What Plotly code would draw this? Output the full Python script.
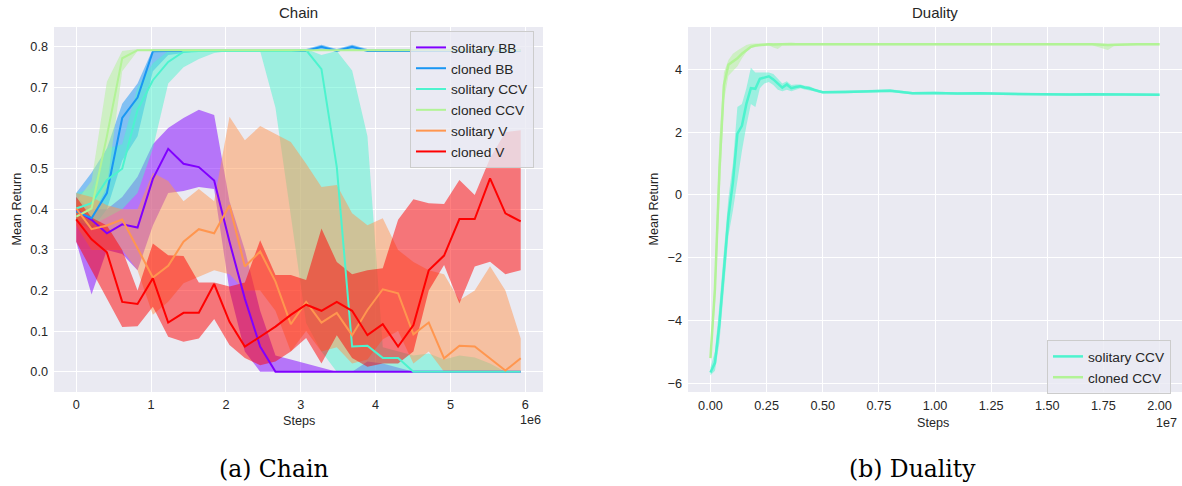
import plotly.graph_objects as go

# ---------------- data: Chain ----------------
chain_steps = [0, 204800, 409600, 614400, 819200, 1024000, 1228800, 1433600, 1638400, 1843200,
               2048000, 2252800, 2457600, 2662400, 2867200, 3072000, 3276800, 3481600, 3686400, 3891200,
               4096000, 4300800, 4505600, 4710400, 4915200, 5120000, 5324800, 5529600, 5734400, 5939200]

sol_bb_mean = [0.398, 0.374, 0.341, 0.363, 0.355, 0.475, 0.549, 0.512, 0.504, 0.471,
               0.32, 0.18, 0.062, 0.0, 0.0, 0.0, 0.0, 0.0, 0.0, 0.0,
               0.0, 0.0, 0.0, 0.0, 0.0, 0.0, 0.0, 0.0, 0.0, 0.0]
sol_bb_low = [0.32, 0.19, 0.30, 0.29, 0.25, 0.36, 0.44, 0.445, 0.455, 0.45,
              0.2, 0.05, 0.0, 0.0, 0.0, 0.0, 0.0, 0.0, 0.0, 0.0,
              0.0, 0.0, 0.0, 0.0, 0.0, 0.0, 0.0, 0.0, 0.0, 0.0]
sol_bb_high = [0.43, 0.40, 0.40, 0.43, 0.48, 0.56, 0.60, 0.625, 0.645, 0.632,
               0.42, 0.30, 0.15, 0.04, 0.03, 0.02, 0.01, 0.0, 0.0, 0.025,
               0.02, 0.01, 0.0, 0.0, 0.0, 0.0, 0.0, 0.0, 0.0, 0.0]

clo_bb_mean = [0.395, 0.378, 0.44, 0.625, 0.675, 0.789, 0.79, 0.79, 0.79, 0.79,
               0.79, 0.79, 0.79, 0.79, 0.79, 0.79, 0.80, 0.79, 0.80, 0.79,
               0.79, 0.79, 0.79, 0.79, 0.79, 0.79, 0.79, 0.79, 0.79, 0.79]
clo_bb_low = [0.37, 0.35, 0.40, 0.52, 0.58, 0.74, 0.78, 0.785, 0.79, 0.79,
              0.79, 0.79, 0.79, 0.79, 0.79, 0.79, 0.79, 0.79, 0.79, 0.79,
              0.79, 0.79, 0.79, 0.79, 0.79, 0.79, 0.79, 0.79, 0.79, 0.79]
clo_bb_high = [0.44, 0.49, 0.55, 0.66, 0.71, 0.795, 0.795, 0.795, 0.795, 0.795,
               0.795, 0.795, 0.795, 0.795, 0.795, 0.795, 0.805, 0.795, 0.805, 0.795,
               0.795, 0.795, 0.795, 0.795, 0.795, 0.795, 0.795, 0.795, 0.795, 0.795]

sol_ccv_mean = [0.402, 0.415, 0.472, 0.50, 0.645, 0.718, 0.763, 0.788, 0.79, 0.79,
                0.79, 0.79, 0.79, 0.79, 0.79, 0.792, 0.745, 0.504, 0.062, 0.064,
                0.034, 0.034, 0.0, 0.0, 0.0, 0.0, 0.0, 0.0, 0.0, 0.0]
sol_ccv_low = [0.37, 0.36, 0.38, 0.40, 0.44, 0.55, 0.71, 0.75, 0.77, 0.785,
               0.79, 0.79, 0.79, 0.65, 0.38, 0.12, 0.05, 0.0, 0.0, 0.0,
               0.0, 0.0, 0.0, 0.0, 0.0, 0.0, 0.0, 0.0, 0.0, 0.0]
sol_ccv_high = [0.44, 0.45, 0.55, 0.56, 0.70, 0.76, 0.79, 0.795, 0.795, 0.795,
                0.795, 0.795, 0.795, 0.795, 0.795, 0.795, 0.78, 0.79, 0.742, 0.58,
                0.06, 0.05, 0.04, 0.045, 0.03, 0.04, 0.035, 0.02, 0.0, 0.0]

clo_ccv_mean = [0.382, 0.402, 0.58, 0.772, 0.792, 0.792, 0.792, 0.792, 0.792, 0.792,
                0.792, 0.792, 0.792, 0.792, 0.792, 0.792, 0.792, 0.792, 0.792, 0.792,
                0.792, 0.792, 0.792, 0.792, 0.792, 0.792, 0.792, 0.792, 0.792, 0.792]
clo_ccv_low = [0.37, 0.38, 0.455, 0.74, 0.79, 0.79, 0.79, 0.79, 0.79, 0.79,
               0.79, 0.79, 0.79, 0.79, 0.79, 0.79, 0.79, 0.79, 0.79, 0.79,
               0.79, 0.79, 0.79, 0.79, 0.79, 0.79, 0.79, 0.79, 0.79, 0.79]
clo_ccv_high = [0.42, 0.47, 0.714, 0.79, 0.795, 0.795, 0.795, 0.795, 0.795, 0.795,
                0.795, 0.795, 0.795, 0.795, 0.795, 0.795, 0.795, 0.795, 0.795, 0.795,
                0.795, 0.795, 0.795, 0.795, 0.795, 0.795, 0.795, 0.795, 0.795, 0.795]

sol_v_mean = [0.402, 0.351, 0.36, 0.375, 0.304, 0.232, 0.261, 0.32, 0.351, 0.341,
              0.41, 0.259, 0.296, 0.222, 0.117, 0.172, 0.121, 0.145, 0.09, 0.152,
              0.203, 0.193, 0.092, 0.121, 0.033, 0.064, 0.062, 0.033, 0.003, 0.033]
sol_v_low = [0.36, 0.30, 0.30, 0.30, 0.25, 0.14, 0.172, 0.218, 0.234, 0.25,
             0.24, 0.20, 0.20, 0.15, 0.05, 0.10, 0.05, 0.06, 0.02, 0.03,
             0.08, 0.10, 0.02, 0.05, 0.0, 0.0, 0.0, 0.0, 0.0, 0.0]
sol_v_high = [0.44, 0.43, 0.41, 0.40, 0.40, 0.49, 0.47, 0.42, 0.45, 0.42,
              0.628, 0.57, 0.605, 0.586, 0.566, 0.512, 0.455, 0.46, 0.39, 0.361,
              0.378, 0.30, 0.27, 0.25, 0.24, 0.176, 0.20, 0.26, 0.20, 0.082]

clo_v_mean = [0.375, 0.326, 0.294, 0.172, 0.167, 0.230, 0.121, 0.145, 0.145, 0.216,
              0.123, 0.062, 0.086, 0.111, 0.140, 0.165, 0.150, 0.172, 0.150, 0.090,
              0.117, 0.062, 0.115, 0.250, 0.286, 0.376, 0.376, 0.476, 0.39, 0.37]
clo_v_low = [0.32, 0.25, 0.18, 0.11, 0.112, 0.16, 0.086, 0.074, 0.082, 0.13,
             0.066, 0.034, 0.016, 0.025, 0.05, 0.083, 0.02, 0.09, 0.034, 0.012,
             0.02, 0.02, 0.05, 0.20, 0.263, 0.168, 0.259, 0.271, 0.24, 0.25]
clo_v_high = [0.43, 0.38, 0.36, 0.30, 0.20, 0.316, 0.287, 0.285, 0.22, 0.22,
              0.21, 0.22, 0.324, 0.238, 0.238, 0.226, 0.353, 0.27, 0.24, 0.25,
              0.255, 0.374, 0.425, 0.415, 0.413, 0.472, 0.435, 0.526, 0.59, 0.595]

chain_labels = ["solitary BB", "cloned BB", "solitary CCV", "cloned CCV", "solitary V", "cloned V"]
chain_colors = [(128, 0, 255), (25, 150, 243), (77, 243, 206), (178, 243, 150), (255, 150, 79), (255, 0, 0)]

# ---------------- data: Duality ----------------
dual_steps = [0, 200000, 400000, 600000, 800000, 1000000, 1200000, 1400000, 1600000, 1800000,
              2000000, 2200000, 2400000, 2600000, 2800000, 3000000, 3200000, 3400000, 3600000, 3800000,
              4000000, 4200000, 4400000, 4600000, 4800000, 5000000, 6000000, 7000000, 8000000, 9000000,
              10000000, 11000000, 12000000, 13000000, 14000000, 15000000, 16000000, 17000000, 17700000,
              18000000, 19000000, 20000000]

dsol_mean = [-5.66, -5.35, -4.1, -2.35, -0.7, 0.4, 1.95, 2.2, 2.9, 3.4,
             3.38, 3.7, 3.75, 3.78, 3.68, 3.55, 3.42, 3.52, 3.4, 3.44,
             3.46, 3.42, 3.4, 3.35, 3.3, 3.27, 3.28, 3.3, 3.32, 3.24,
             3.25, 3.23, 3.24, 3.22, 3.21, 3.2, 3.2, 3.21, 3.2, 3.2, 3.2, 3.19]
dsol_low = [-5.75, -5.6, -4.7, -3.0, -1.3, -0.5, 0.5, 1.4, 2.2, 2.9,
            2.8, 3.4, 3.55, 3.6, 3.5, 3.35, 3.3, 3.35, 3.3, 3.36,
            3.4, 3.36, 3.34, 3.3, 3.26, 3.23, 3.24, 3.26, 3.28, 3.2,
            3.21, 3.19, 3.2, 3.18, 3.17, 3.16, 3.16, 3.17, 3.16, 3.16, 3.16, 3.15]
dsol_high = [-5.5, -5.0, -3.5, -1.7, -0.1, 1.0, 2.8, 2.9, 3.4, 4.05,
             3.9, 3.9, 3.9, 3.9, 3.85, 3.7, 3.55, 3.62, 3.5, 3.52,
             3.52, 3.48, 3.46, 3.4, 3.34, 3.31, 3.32, 3.34, 3.37, 3.28,
             3.29, 3.27, 3.28, 3.26, 3.25, 3.24, 3.24, 3.25, 3.24, 3.24, 3.24, 3.23]

dclo_mean = [-5.2, -3.0, 0.8, 3.5, 4.15, 4.25, 4.35, 4.5, 4.62, 4.72,
             4.76, 4.78, 4.8, 4.8, 4.79, 4.8, 4.8, 4.8, 4.81, 4.8,
             4.8, 4.8, 4.8, 4.8, 4.81, 4.8, 4.8, 4.81, 4.8, 4.8,
             4.8, 4.81, 4.8, 4.8, 4.8, 4.8, 4.79, 4.8, 4.78, 4.79, 4.8, 4.8]
dclo_low = [-5.3, -3.5, -0.2, 3.0, 3.8, 3.95, 4.1, 4.35, 4.55, 4.68,
            4.72, 4.75, 4.77, 4.77, 4.7, 4.65, 4.76, 4.77, 4.78, 4.77,
            4.77, 4.77, 4.77, 4.77, 4.78, 4.77, 4.77, 4.78, 4.77, 4.77,
            4.77, 4.78, 4.77, 4.77, 4.77, 4.77, 4.76, 4.77, 4.62, 4.76, 4.77, 4.77]
dclo_high = [-5.1, -2.5, 1.8, 3.9, 4.3, 4.5, 4.6, 4.7, 4.78, 4.82,
             4.83, 4.83, 4.83, 4.83, 4.82, 4.83, 4.83, 4.83, 4.84, 4.83,
             4.83, 4.83, 4.83, 4.83, 4.84, 4.83, 4.83, 4.84, 4.83, 4.83,
             4.83, 4.84, 4.83, 4.83, 4.83, 4.83, 4.82, 4.83, 4.81, 4.82, 4.83, 4.83]

dual_labels = ["solitary CCV", "cloned CCV"]
dual_colors = [(77, 243, 206), (178, 243, 150)]

# ---------------- layout helpers ----------------
W, H = 1182, 486
TOP, BOT = 27, 392


def fx(p):
    return p / W


def fy(p):
    return (BOT - p) / (BOT - TOP)


FONT = "Liberation Sans, Arial, sans-serif"
TXT = "#262626"
BG = "#eaeaf2"

fig = go.Figure()


def add_band(x, lo, hi, col, xa, ya):
    fig.add_trace(go.Scatter(x=x, y=lo, mode="lines", line=dict(width=0, color="rgba(0,0,0,0)"),
                             showlegend=False, hoverinfo="skip", xaxis=xa, yaxis=ya))
    fig.add_trace(go.Scatter(x=x, y=hi, mode="lines", line=dict(width=0, color="rgba(0,0,0,0)"),
                             fill="tonexty", fillcolor="rgba(%d,%d,%d,0.5)" % col,
                             showlegend=False, hoverinfo="skip", xaxis=xa, yaxis=ya))


chain_series = [
    (sol_bb_mean, sol_bb_low, sol_bb_high),
    (clo_bb_mean, clo_bb_low, clo_bb_high),
    (sol_ccv_mean, sol_ccv_low, sol_ccv_high),
    (clo_ccv_mean, clo_ccv_low, clo_ccv_high),
    (sol_v_mean, sol_v_low, sol_v_high),
    (clo_v_mean, clo_v_low, clo_v_high),
]
for (m, lo, hi), col in zip(chain_series, chain_colors):
    add_band(chain_steps, lo, hi, col, "x", "y")
for (m, lo, hi), col, name in zip(chain_series, chain_colors, chain_labels):
    fig.add_trace(go.Scatter(x=chain_steps, y=m, mode="lines", name=name,
                             line=dict(color="rgb(%d,%d,%d)" % col, width=2),
                             legendgroup=name, legend="legend", xaxis="x", yaxis="y"))

dual_series = [(dsol_mean, dsol_low, dsol_high), (dclo_mean, dclo_low, dclo_high)]
for (m, lo, hi), col in zip(dual_series, dual_colors):
    add_band(dual_steps, lo, hi, col, "x2", "y2")
for (m, lo, hi), col, name in zip(dual_series, dual_colors, dual_labels):
    fig.add_trace(go.Scatter(x=dual_steps, y=m, mode="lines", name=name,
                             line=dict(color="rgb(%d,%d,%d)" % col, width=2.5),
                             legendgroup="d" + name, legend="legend2", xaxis="x2", yaxis="y2"))

axis_common = dict(showgrid=True, gridcolor="white", gridwidth=1.2, zeroline=False, showline=False,
                   ticks="", tickfont=dict(family=FONT, size=12.7, color=TXT), fixedrange=True)

fig.update_layout(
    width=W, height=H,
    margin=dict(l=0, r=0, t=TOP, b=H - BOT, pad=0),
    paper_bgcolor="white", plot_bgcolor=BG,
    showlegend=True,
    xaxis=dict(domain=[fx(54), fx(543)], range=[-297000, 6237000], anchor="y",
               tickvals=[0, 1e6, 2e6, 3e6, 4e6, 5e6, 6e6], ticktext=["0", "1", "2", "3", "4", "5", "6"],
               ticklabelstandoff=3, **axis_common),
    yaxis=dict(domain=[0, 1], range=[-0.05, 0.849], anchor="x",
               tickvals=[0, 0.1, 0.2, 0.3, 0.4, 0.5, 0.6, 0.7, 0.8],
               ticktext=["0.0", "0.1", "0.2", "0.3", "0.4", "0.5", "0.6", "0.7", "0.8"],
               ticklabelstandoff=5, **axis_common),
    xaxis2=dict(domain=[fx(688), 1.0], range=[-1.0e6, 2.1e7], anchor="y2",
                tickvals=[0, 2.5e6, 5e6, 7.5e6, 1e7, 1.25e7, 1.5e7, 1.75e7, 2e7],
                ticktext=["0.00", "0.25", "0.50", "0.75", "1.00", "1.25", "1.50", "1.75", "2.00"],
                ticklabelstandoff=4, **axis_common),
    yaxis2=dict(domain=[0, 1], range=[-6.28, 5.35], anchor="x2",
                tickvals=[-6, -4, -2, 0, 2, 4], ticktext=["\u22126", "\u22124", "\u22122", "0", "2", "4"],
                ticklabelstandoff=5, **axis_common),
    legend=dict(x=fx(410), y=fy(31), xanchor="left", yanchor="top",
                bgcolor="rgba(234,234,242,0.8)", bordercolor="#cccccc", borderwidth=1,
                font=dict(family=FONT, size=13.7, color=TXT), itemwidth=30, tracegroupgap=1,
                traceorder="normal"),
    legend2=dict(x=fx(1047), y=fy(340), xanchor="left", yanchor="top",
                 bgcolor="rgba(234,234,242,0.8)", bordercolor="#cccccc", borderwidth=1,
                 font=dict(family=FONT, size=13.7, color=TXT), itemwidth=30, tracegroupgap=0,
                 traceorder="normal"),
)

ann = []


def text(x, y, s, size, xanchor="center", angle=0, family=FONT, color=TXT):
    ann.append(dict(x=fx(x), y=fy(y), xref="paper", yref="paper", text=s, showarrow=False,
                    xanchor=xanchor, yanchor="middle", textangle=angle,
                    font=dict(family=family, size=size, color=color)))


text(298.5, 13, "Chain", 15)
text(935, 13, "Duality", 15)
text(298.5, 421, "Steps", 12.6)
text(933, 423, "Steps", 12.6)
text(543, 420, "1e6", 12.6, xanchor="right")
text(1179, 423, "1e7", 12.6, xanchor="right")
text(16, 209.5, "Mean Return", 12.6, angle=-90)
text(653, 209.5, "Mean Return", 12.6, angle=-90)
text(274, 469, "(a) Chain", 23.5, family="DejaVu Serif, serif", color="black")
text(912, 469, "(b) Duality", 23.5, family="DejaVu Serif, serif", color="black")
fig.update_layout(annotations=ann)

fig.write_html("out.html")
